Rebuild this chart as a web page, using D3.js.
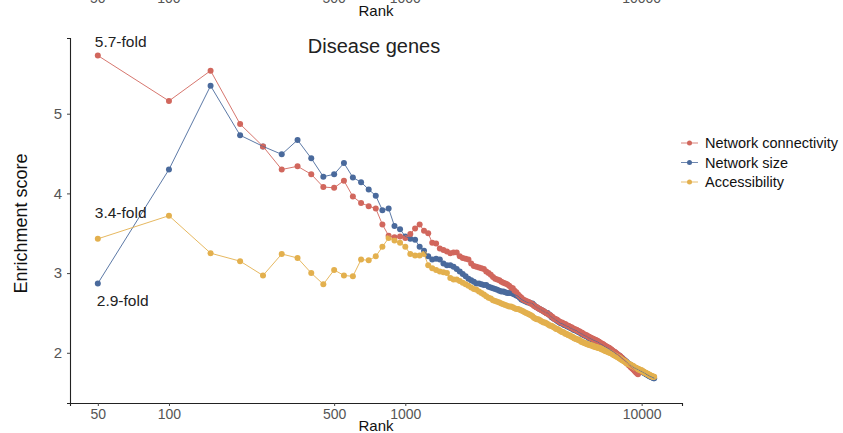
<!DOCTYPE html>
<html>
<head>
<meta charset="utf-8">
<script src="https://cdn.jsdelivr.net/npm/d3@7"></script>
<style>
  html, body { margin: 0; padding: 0; background: #fff; }
  svg { display: block; font-family: "Liberation Sans", Arial, Helvetica, sans-serif; }
</style>
</head>
<body>
<svg id="chart" width="843" height="433"></svg>
<script>
// Enrichment of disease genes among top-ranked genes, three ranking criteria.
// Ranks run in steps of 50 starting at 50.
const rankStep = 50;

const connectivity = [
  5.73,5.16,5.54,4.87,4.59,4.30,4.34,4.24,4.08,4.07,
  4.16,3.96,3.88,3.84,3.81,3.61,3.47,3.45,3.46,3.44,
  3.49,3.56,3.61,3.53,3.50,3.38,3.37,3.31,3.29,3.27,
  3.25,3.26,3.26,3.21,3.19,3.18,3.17,3.12,3.09,3.08,
  3.07,3.06,3.05,3.02,3.00,2.98,2.95,2.93,2.92,2.91,
  2.89,2.88,2.87,2.86,2.84,2.82,2.81,2.78,2.76,2.73,
  2.71,2.69,2.67,2.66,2.65,2.64,2.63,2.62,2.61,2.59,
  2.58,2.57,2.56,2.55,2.54,2.53,2.52,2.51,2.50,2.49,
  2.48,2.47,2.46,2.45,2.43,2.42,2.42,2.41,2.40,2.39,
  2.38,2.38,2.37,2.36,2.36,2.35,2.34,2.34,2.33,2.32,
  2.32,2.31,2.30,2.30,2.29,2.29,2.28,2.27,2.27,2.26,
  2.25,2.25,2.24,2.23,2.23,2.22,2.22,2.21,2.20,2.20,
  2.19,2.19,2.18,2.18,2.17,2.17,2.16,2.16,2.15,2.15,
  2.14,2.14,2.13,2.12,2.12,2.11,2.11,2.10,2.09,2.09,
  2.08,2.08,2.07,2.07,2.06,2.06,2.05,2.04,2.04,2.03,
  2.02,2.02,2.01,2.01,2.00,1.99,1.99,1.98,1.97,1.97,
  1.96,1.96,1.95,1.94,1.93,1.92,1.92,1.91,1.90,1.90,
  1.89,1.88,1.87,1.87,1.86,1.85,1.84,1.84,1.83,1.82,
  1.82,1.81,1.80,1.80,1.79,1.78,1.77,1.77,1.76,1.75,
  1.75,1.74,1.73
];

const networkSize = [
  2.87,4.30,5.35,4.73,4.59,4.49,4.67,4.44,4.21,4.24,
  4.38,4.20,4.14,4.05,3.97,3.79,3.81,3.59,3.55,3.46,
  3.43,3.42,3.33,3.28,3.21,3.17,3.18,3.17,3.12,3.10,
  3.10,3.08,3.05,3.02,2.99,2.96,2.93,2.91,2.89,2.87,
  2.87,2.86,2.85,2.85,2.83,2.82,2.81,2.80,2.79,2.78,
  2.77,2.77,2.76,2.75,2.75,2.75,2.74,2.73,2.72,2.71,
  2.69,2.67,2.66,2.65,2.64,2.63,2.63,2.62,2.62,2.60,
  2.58,2.57,2.56,2.55,2.54,2.53,2.52,2.51,2.50,2.50,
  2.48,2.47,2.45,2.44,2.43,2.42,2.41,2.40,2.39,2.38,
  2.37,2.37,2.36,2.35,2.35,2.34,2.33,2.33,2.32,2.31,
  2.31,2.30,2.29,2.29,2.28,2.28,2.27,2.26,2.26,2.25,
  2.24,2.24,2.23,2.22,2.22,2.21,2.21,2.20,2.19,2.19,
  2.18,2.18,2.17,2.17,2.16,2.16,2.15,2.15,2.14,2.14,
  2.13,2.13,2.12,2.11,2.11,2.10,2.10,2.09,2.08,2.08,
  2.07,2.07,2.06,2.06,2.05,2.05,2.04,2.03,2.03,2.02,
  2.02,2.01,2.01,2.00,1.99,1.99,1.98,1.98,1.97,1.97,
  1.96,1.95,1.95,1.94,1.93,1.93,1.92,1.91,1.91,1.90,
  1.89,1.89,1.88,1.87,1.87,1.86,1.86,1.85,1.85,1.84,
  1.84,1.83,1.83,1.82,1.82,1.81,1.81,1.81,1.80,1.80,
  1.80,1.79,1.79,1.79,1.78,1.78,1.78,1.77,1.77,1.77,
  1.76,1.76,1.76,1.75,1.75,1.75,1.74,1.74,1.73,1.73,
  1.73,1.72,1.72,1.72,1.71,1.71,1.71,1.70,1.70,1.70,
  1.70,1.69,1.69,1.69,1.68,1.68
];

const accessibility = [
  3.43,3.72,3.25,3.15,2.97,3.24,3.19,3.00,2.86,3.04,
  2.97,2.96,3.17,3.16,3.21,3.33,3.44,3.41,3.38,3.33,
  3.24,3.22,3.22,3.24,3.10,3.06,3.04,3.02,3.01,3.00,
  2.94,2.92,2.92,2.90,2.88,2.86,2.84,2.82,2.80,2.79,
  2.77,2.75,2.73,2.71,2.69,2.68,2.66,2.65,2.64,2.63,
  2.62,2.61,2.60,2.59,2.58,2.58,2.57,2.56,2.55,2.55,
  2.54,2.53,2.52,2.51,2.50,2.49,2.48,2.47,2.46,2.44,
  2.43,2.42,2.42,2.41,2.40,2.39,2.38,2.38,2.37,2.36,
  2.35,2.34,2.34,2.33,2.32,2.31,2.30,2.30,2.29,2.28,
  2.27,2.26,2.26,2.25,2.24,2.24,2.23,2.22,2.22,2.21,
  2.20,2.20,2.19,2.18,2.18,2.17,2.17,2.16,2.16,2.15,
  2.14,2.14,2.13,2.13,2.12,2.12,2.11,2.11,2.10,2.10,
  2.10,2.09,2.09,2.09,2.08,2.08,2.08,2.07,2.07,2.07,
  2.06,2.06,2.06,2.05,2.05,2.04,2.04,2.04,2.03,2.03,
  2.02,2.02,2.02,2.01,2.01,2.00,2.00,2.00,1.99,1.99,
  1.98,1.98,1.97,1.97,1.96,1.96,1.95,1.95,1.94,1.94,
  1.93,1.93,1.92,1.92,1.91,1.91,1.90,1.90,1.89,1.89,
  1.88,1.88,1.87,1.87,1.86,1.86,1.86,1.85,1.85,1.85,
  1.84,1.84,1.83,1.83,1.83,1.82,1.82,1.81,1.81,1.81,
  1.80,1.80,1.80,1.79,1.79,1.79,1.78,1.78,1.78,1.78,
  1.77,1.77,1.76,1.76,1.76,1.75,1.75,1.75,1.74,1.74,
  1.74,1.73,1.73,1.73,1.72,1.72,1.72,1.71,1.71,1.71,
  1.71,1.70,1.70,1.70,1.70,1.70
];

const seriesNames = ["Network connectivity", "Network size", "Accessibility"];
const seriesColors = ["#d1675d", "#4a6a9c", "#e3b04e"];
const xTickValues = [50, 100, 500, 1000, 10000];
const yTickValues = [2, 3, 4, 5];
const foldLabels = ["5.7-fold", "3.4-fold", "2.9-fold"];

(function draw() {
  const series = [connectivity, networkSize, accessibility].map((vals, k) => ({
    name: seriesNames[k],
    color: seriesColors[k],
    points: vals.map((v, i) => ({ rank: rankStep * (i + 1), value: v }))
  }));

  const svg = d3.select("#chart");
  const pLeft = 70, pRight = 682, pTop = 38, pBottom = 403;

  // log-scaled rank axis with 5% padding on each side
  const allRanks = series.flatMap(s => s.points.map(p => p.rank));
  const lr = [Math.log10(d3.min(allRanks)), Math.log10(d3.max(allRanks))];
  const pad = (lr[1] - lr[0]) * 0.05;
  const x = d3.scaleLog()
    .domain([Math.pow(10, lr[0] - pad), Math.pow(10, lr[1] + pad)])
    .range([pLeft, pRight]);
  const y = d3.scaleLinear().domain([1.37, 5.95]).range([pBottom, pTop]);

  const tickFont = "'Liberation Sans Narrow', 'Liberation Sans', Arial, sans-serif";

  // x axis (bottom)
  const xAxis = svg.append("g")
    .attr("transform", `translate(0,${pBottom})`)
    .call(d3.axisBottom(x).tickValues(xTickValues).tickFormat(d3.format("d")).tickSize(3).tickPadding(3));
  xAxis.select(".domain").attr("stroke", "#222").attr("stroke-width", 1.1);
  xAxis.selectAll(".tick line").attr("stroke", "#444");
  xAxis.selectAll(".tick text").attr("fill", "#555").attr("font-size", 14)
    .attr("font-family", tickFont);

  // y axis
  const yAxis = svg.append("g")
    .attr("transform", `translate(${pLeft},0)`)
    .call(d3.axisLeft(y).tickValues(yTickValues).tickFormat(d3.format("d")).tickSize(3).tickPadding(5));
  yAxis.select(".domain").attr("stroke", "#222").attr("stroke-width", 1.1);
  yAxis.selectAll(".tick line").attr("stroke", "#444");
  yAxis.selectAll(".tick text").attr("fill", "#555").attr("font-size", 15);

  // axis titles
  svg.append("text").attr("x", (pLeft + pRight) / 2).attr("y", 431)
    .attr("text-anchor", "middle").attr("font-size", 15).attr("fill", "#111").text("Rank");
  svg.append("text")
    .attr("transform", `translate(27,${(pTop + pBottom) / 2 + 3}) rotate(-90)`)
    .attr("text-anchor", "middle").attr("font-size", 18).attr("fill", "#111").text("Enrichment score");

  // panel title
  svg.append("text").attr("x", (pLeft + pRight) / 2 - 2).attr("y", 53)
    .attr("text-anchor", "middle").attr("font-size", 20).attr("fill", "#222").text("Disease genes");

  // bottom edge of the panel stacked above (its axis labels)
  const upper = svg.append("g");
  upper.selectAll("text.tk").data(xTickValues).join("text")
    .attr("class", "tk")
    .attr("x", d => x(d)).attr("y", 3)
    .attr("text-anchor", "middle").attr("font-size", 14).attr("fill", "#555")
    .attr("font-family", tickFont)
    .text(d => d3.format("d")(d));
  upper.append("text").attr("x", (pLeft + pRight) / 2).attr("y", 16)
    .attr("text-anchor", "middle").attr("font-size", 15).attr("fill", "#111").text("Rank");

  // marks: points first, connecting lines drawn over them
  const line = d3.line().x(d => x(d.rank)).y(d => y(d.value));
  const drawOrder = [1, 0, 2];
  drawOrder.forEach(k => {
    const s = series[k];
    svg.append("g").selectAll("circle").data(s.points).join("circle")
      .attr("cx", d => x(d.rank)).attr("cy", d => y(d.value)).attr("r", 3)
      .attr("fill", s.color);
  });
  drawOrder.forEach(k => {
    const s = series[k];
    svg.append("path").datum(s.points)
      .attr("d", line).attr("fill", "none")
      .attr("stroke", s.color).attr("stroke-width", 0.9);
  });

  // fold-change labels next to the first point of each series
  const labelSeries = [0, 2, 1];          // connectivity, accessibility, size
  const labelDy = { 0: -9, 2: -21, 1: 23 };
  const labelDx = { 0: -3, 2: -3, 1: -1 };
  labelSeries.forEach((k, j) => {
    const p = series[k].points[0];
    svg.append("text")
      .attr("x", x(p.rank) + labelDx[k])
      .attr("y", y(p.value) + labelDy[k])
      .attr("font-size", 15.5).attr("fill", "#222")
      .text(foldLabels[j]);
  });

  // legend
  const legend = svg.append("g").attr("transform", "translate(681,143)");
  series.forEach((s, k) => {
    const g = legend.append("g").attr("transform", `translate(0,${k * 19.5})`);
    g.append("line").attr("x1", 0).attr("x2", 17).attr("y1", 0).attr("y2", 0)
      .attr("stroke", s.color).attr("stroke-width", 1).attr("opacity", 0.8);
    g.append("circle").attr("cx", 8.5).attr("cy", 0).attr("r", 2.5).attr("fill", s.color);
    g.append("text").attr("x", 24).attr("y", 5).attr("font-size", 14.5).attr("fill", "#111").text(s.name);
  });
})();
</script>
</body>
</html>
